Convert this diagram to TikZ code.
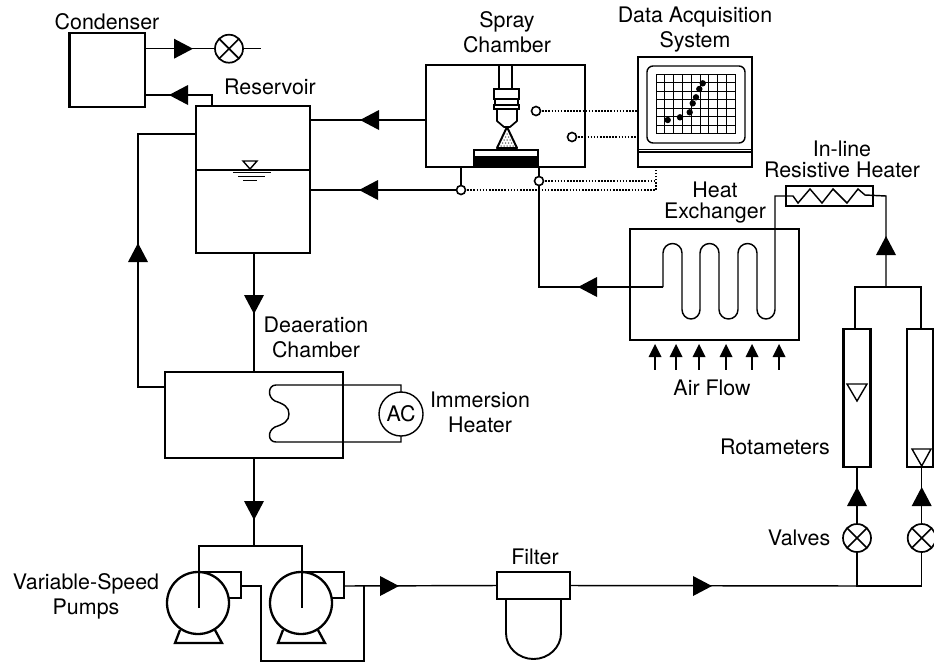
\documentclass[tikz,border=0pt]{standalone}
\usepackage{fontspec}
\setmainfont{TeX Gyre Heros}
\tikzset{
  boxst/.style={draw,line width=2.3pt,inner sep=0pt,outer sep=0pt},
  pipe/.style={line width=1.45pt,line join=miter},
  thin pipe/.style={line width=1.2pt},
  dotline/.style={line width=2.1pt,dash pattern=on 1.6pt off 1.5pt},
  joint/.style={circle,draw,line width=1.6pt,fill=white,minimum size=9pt,inner sep=0pt,outer sep=0pt},
  valve/.style={circle,draw,line width=1.7pt,minimum size=28pt,inner sep=0pt,outer sep=0pt,fill=white,
    path picture={\draw[line width=1.7pt] (path picture bounding box.north west)--(path picture bounding box.south east)
      (path picture bounding box.north east)--(path picture bounding box.south west);}},
  pumpbody/.style={circle,draw,line width=2.3pt,minimum size=62pt,inner sep=0pt,outer sep=0pt},
  lab/.style={align=center,inner sep=0pt,font=\fontsize{21.4}{25}\selectfont},
  labtight/.style={align=center,inner sep=0pt,font=\fontsize{21.4}{21}\selectfont},
  empty tri/.style={line width=1.4pt,line join=miter}
}
\newcommand{\flowtip}[3]{\fill[shift={(#1,#2)},rotate=#3] (0,0)--(-19,10)--(-19,-10)--cycle;}
\newcommand{\airtip}[2]{\fill[shift={(#1,#2)}] (0,0)--(6.5,13)--(-6.5,13)--cycle;}
\begin{document}
\begin{tikzpicture}[x=1pt,y=-1pt]
\useasboundingbox (0,0) rectangle (934,662);
\fill[white] (0,0) rectangle (934,662);

% equipment
\node[boxst,minimum width=75.5pt,minimum height=74pt] (cond) at (107.2,70) {};
\node[boxst,minimum width=114pt,minimum height=147pt] (res) at (253,179.5) {};
\node[boxst,minimum width=159pt,minimum height=102pt] (spray) at (505.5,116) {};
\node[boxst,minimum width=114pt,minimum height=110pt] (daq) at (695,112) {};
\node[boxst,minimum width=169pt,minimum height=111pt] (hx) at (714.5,284.5) {};
\node[boxst,line width=1.6pt,minimum width=87pt,minimum height=20pt] (rh) at (829.5,196) {};
\node[boxst,minimum width=178pt,minimum height=86pt] (deaer) at (254,415) {};
\node[circle,draw,line width=1.4pt,minimum size=44pt,inner sep=0pt,outer sep=0pt,font=\fontsize{21.4}{24}\selectfont] (ac) at (401,414) {AC};
\node[boxst,minimum width=27pt,minimum height=138pt] (rot1) at (857,398) {};
\node[boxst,minimum width=26pt,minimum height=138pt] (rot2) at (920,398) {};
\node[pumpbody] (p1) at (198,603) {};
\node[pumpbody] (p2) at (301,603) {};
\node[boxst,minimum width=73pt,minimum height=27pt] (filt) at (533.5,585.5) {};

% named junctions and free ends
\coordinate (vend) at (261,48.7);
\coordinate (j1) at (461,190);
\coordinate (j2) at (539,181);
\coordinate (m1) at (254,546);
\coordinate (rm) at (886,287);
\coordinate (out) at (364,586);
\coordinate (tee) at (859,586);
\coordinate (vc0) at (229,48.7);
\coordinate (vc1) at (857,538);
\coordinate (vc2) at (921.7,538);

% condenser
\draw[pipe] (cond.east |- vc0) -- (vend);
\node[valve] (v0) at (vc0) {};
\flowtip{193}{48.7}{0}
\draw[pipe] (cond.east |- 0,95) -- (212,95) -- (212,105.5);
\flowtip{169}{95}{180}

% reservoir
\draw[pipe] (res.west |- 0,170) -- (res.east |- 0,170);
\draw[empty tri] (243,161) -- (257,161) -- (250,169) -- cycle;
\draw[pipe] (233,172.5) -- (271,172.5) (238,176.5) -- (265,176.5) (243,180.5) -- (257,180.5);
\draw[pipe] (res.west |- 0,134) -- (138,134) -- (138,387) -- (deaer.west |- 0,387);
\flowtip{138}{243}{90}
\draw[pipe] (res.south) -- (res.south -| deaer.north) -- (deaer.north);
\flowtip{254}{314}{-90}

% spray chamber connections
\draw[pipe] (spray.west |- 0,120) -- (res.east |- 0,120);
\flowtip{360}{120}{180}
\draw[pipe] (j1) -- (res.east |- j1);
\flowtip{359}{190}{180}
\draw[pipe] (spray.south -| j1) -- (j1);
\draw[pipe] (spray.south -| j2) -- (j2);
\draw[pipe] (j2) -- (539,287) -- (663,287);
\flowtip{578}{287}{180}
\draw[dotline] (536,111) -- (daq.west |- 0,111);
\draw[dotline] (572,137) -- (daq.west |- 0,137);
\draw[dotline] (j1) -- (656,190) -- (656,167);
\draw[dotline] (j2) -- (656,181);
\node[joint] (c1) at (536,111) {};
\node[joint] (c2) at (572,137) {};
\node[joint] (c3) at (j1) {};
\node[joint] (c4) at (j2) {};

% nozzle and target
\draw[line width=1.7pt] (499,65) -- (499,89) (512,65) -- (512,89);
\draw[line width=2pt] (494,89) rectangle (519,99);
\draw[line width=2pt] (494,105) rectangle (519,109);
\draw[line width=2pt] (495,99) -- (495,105) (518,99) -- (518,105);
\draw[line width=1.7pt] (497,109) -- (497,121) -- (504,127) -- (510,127) -- (517,121) -- (517,109);
\draw[line width=2pt,line join=round] (507,127) -- (497,148) -- (517,148) -- cycle;
\foreach \sy/\sw in {134/1,137/2,140/3,143/4,146/5}
  \foreach \si in {1,...,\sw}
    \fill[black!70] ({507-1.5*\sw+3*(\si-0.5)},\sy) circle (0.75);
\draw[line width=2pt] (474,167) -- (474,150) -- (538,150) -- (538,167);
\fill (474,156) -- (538,156) -- (538,167) -- (474,167) -- cycle;

% monitor
\draw[line width=2pt] (daq.west |- 0,152) -- (daq.east |- 0,152);
\draw[line width=1pt] (daq.west |- 0,149.5) -- (daq.east |- 0,149.5);
\draw[line width=1.4pt,rounded corners=6pt] (647,66) rectangle (745,143);
\foreach \gi in {0,...,9} \draw[line width=1pt] ({656+8.8*\gi},74) -- ({656+8.8*\gi},134);
\foreach \gi in {0,...,7} \draw[line width=1pt] (656,{74+8.57*\gi}) -- (735.2,{74+8.57*\gi});
\foreach \dx/\dy in {667.7/120,680/117.3,689.7/112.3,692.7/103.3,696/97.3,699.3/89,702.7/83.3}
  \fill (\dx,\dy) circle (3.2);

% heat exchanger coil
\draw[pipe] (663,287) -- (663,253) arc[start angle=180,end angle=360,x radius=9.5,y radius=9.5]
  -- (682,309.5) arc[start angle=180,end angle=0,x radius=9,y radius=9.5]
  -- (700,253) arc[start angle=180,end angle=360,x radius=9.5,y radius=9.5]
  -- (719,309.5) arc[start angle=180,end angle=0,x radius=9.5,y radius=9.5]
  -- (738,253) arc[start angle=180,end angle=360,x radius=9.5,y radius=9.5]
  -- (757,309.5) arc[start angle=180,end angle=0,x radius=9,y radius=9.5]
  -- (775,196) -- (793,196) -- (798,203) -- (810,189) -- (822,203) -- (833,189) -- (847,203) -- (858,189) -- (865,195) -- (886,196) -- (rm);
\flowtip{886}{236}{90}
\draw[pipe] (rot1.north -| 855,0) -- (855,287) -- (921,287) -- (rot2.north -| 921,0);

% air flow
\foreach \ax in {655,676,699,726,752,779}{
  \airtip{\ax}{344}
  \draw[thin pipe] (\ax,350) -- (\ax,370);
}

% rotameters and valves
\draw[empty tri] (847,384) -- (867,384) -- (857,401) -- cycle;
\draw[empty tri] (912,449) -- (931,449) -- (921.7,466) -- cycle;
\draw[pipe] (vc1) -- (rot1.south);
\draw[pipe] (vc2) -- (vc2 |- rot2.south);
\node[valve] (v1) at (vc1) {};
\node[valve] (v2) at (vc2) {};
\flowtip{857}{487}{90}
\flowtip{921.7}{487}{90}
\draw[pipe] (v1.south) -- (v1 |- tee) -- (v2 |- tee) -- (v2.south);

% deaeration heater
\draw[pipe] (ac.north) -- (401,385) -- (276,385)
  .. controls (268,385) and (267,397) .. (275,401)
  .. controls (284,404) and (289,407) .. (289,414)
  .. controls (289,421) and (284,424) .. (275,427)
  .. controls (267,431) and (268,442) .. (276,442)
  -- (401,442) -- (ac.south);

% pumps
\draw[pipe] (deaer.south) -- (m1);
\flowtip{254}{520}{-90}
\draw[pipe] (199,608) -- (199,546) -- (302,546) -- (302,608);
\draw[line width=2.3pt,line join=miter] (199,572) -- (241,572) -- (241,598) -- (229,598);
\draw[line width=2.3pt,line join=miter] (302,572) -- (344,572) -- (344,598) -- (332,598);
\draw[line width=2.3pt,line join=miter] (180,630) -- (175,643) -- (222,643) -- (215,630);
\draw[line width=2.3pt,line join=miter] (283,630) -- (278,643) -- (325,643) -- (318,630);
\draw[pipe] (241,586) -- (261,586) -- (261,661) -- (364,661) -- (out);
\draw[pipe] (344,586) -- (filt.west);
\flowtip{399}{586}{0}
\draw[pipe] (filt.east) -- (tee);
\flowtip{712}{586}{0}

% filter bowl
\draw[line width=1.9pt] (506,599) -- (506,633) arc[start angle=180,end angle=0,x radius=27.5,y radius=26] -- (561,599);

% labels
\node[lab] (t1) at (107,22) {Condenser};
\node[lab] (t2) at (270,87) {Reservoir};
\node[lab] (t3) at (507,32.5) {Spray\\Chamber};
\node[lab] (t4) at (695,29.5) {Data Acquisition\\System};
\node[labtight] (t5) at (842,159.5) {In-line\\Resistive Heater};
\node[labtight] (t6) at (715,202.5) {Heat\\Exchanger};
\node[lab] (t7) at (316,337.5) {Deaeration\\Chamber};
\node[lab] (t8) at (480,412.5) {Immersion\\Heater};
\node[lab] (t9) at (712,388) {Air Flow};
\node[lab] (t10) at (775,447) {Rotameters};
\node[lab] (t11) at (799,538) {Valves};
\node[lab] (t12) at (86,596.5) {Variable-Speed\\Pumps};
\node[lab] (t13) at (535,557) {Filter};
\end{tikzpicture}
\end{document}
